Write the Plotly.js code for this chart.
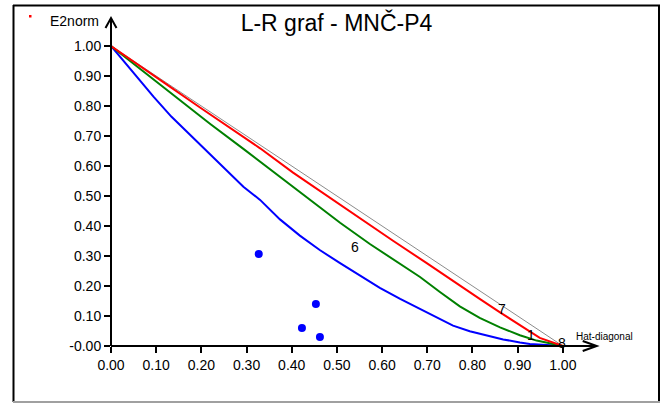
<!DOCTYPE html>
<html><head><meta charset="utf-8">
<script src="https://cdn.plot.ly/plotly-3.0.1.min.js"></script>
<style>html,body{margin:0;padding:0;background:#fff}#chart{width:664px;height:403px}</style>
</head><body><div id="chart"></div>
<script>
// ---- data ----
const tickVals = [0,0.1,0.2,0.3,0.4,0.5,0.6,0.7,0.8,0.9,1.0];
const xTickText = ["0.00","0.10","0.20","0.30","0.40","0.50","0.60","0.70","0.80","0.90","1.00"];
const yTickText = ["-0.00","0.10","0.20","0.30","0.40","0.50","0.60","0.70","0.80","0.90","1.00"];

const diagHat = [0, 1];
const diagE2  = [1, 0];

const redHat = [0,0.049,0.123,0.197,0.271,0.330,0.403,0.477,0.551,0.625,0.698,0.772,0.816,0.861,0.905,0.949,1.0];
const redE2  = [1,0.948,0.872,0.795,0.718,0.659,0.578,0.501,0.424,0.350,0.277,0.200,0.157,0.112,0.068,0.027,0];

const greenHat = [0,0.049,0.094,0.160,0.219,0.293,0.330,0.374,0.440,0.507,0.573,0.639,0.684,0.728,0.772,0.816,0.861,0.905,0.942,0.979,1.0];
const greenE2  = [1,0.942,0.886,0.810,0.741,0.657,0.614,0.564,0.487,0.411,0.340,0.275,0.230,0.180,0.132,0.094,0.062,0.036,0.018,0.007,0];

const blueHat = [0,0.057,0.094,0.134,0.175,0.219,0.256,0.293,0.330,0.374,0.418,0.462,0.507,0.558,0.595,0.640,0.684,0.721,0.757,0.794,0.831,0.868,0.905,0.927,0.964,1.0];
const blueE2  = [1,0.898,0.831,0.764,0.704,0.638,0.585,0.531,0.487,0.422,0.368,0.320,0.276,0.228,0.194,0.157,0.123,0.094,0.068,0.049,0.035,0.022,0.012,0.007,0.003,0];

const ptHat = [0.327,0.4226,0.4535,0.4624];
const ptE2  = [0.307,0.060,0.140,0.030];

const lblText = ["6","7","1","8"];
const lblHat  = [0.541,0.865,0.930,0.999];
const lblE2   = [0.331,0.123,0.037,0.010];

// ---- geometry helpers ----
const W = 664, H = 403, ML = 111, MR = 56, MT = 10, MB = 57;
const PW = W - ML - MR, PH = H - MT - MB;
const XR = [0, 1.1], YR = [0, 1.12];
const pX = px => (px - ML) / PW;
const pY = py => (H - MB - py) / PH;
const dX = x => (x - XR[0]) / (XR[1] - XR[0]);
const dY = y => (y - YR[0]) / (YR[1] - YR[0]);

const font = 'Liberation Sans, Arial, sans-serif';

const traces = [
  {x: diagHat, y: diagE2, mode: 'lines', line: {color: '#8c8c8c', width: 1}, cliponaxis: false, hoverinfo: 'skip'},
  {x: blueHat, y: blueE2, mode: 'lines', line: {color: '#0000ff', width: 2}, cliponaxis: false},
  {x: greenHat, y: greenE2, mode: 'lines', line: {color: '#008000', width: 2}, cliponaxis: false},
  {x: redHat, y: redE2, mode: 'lines', line: {color: '#ff0000', width: 2}, cliponaxis: false},
  {x: ptHat, y: ptE2, mode: 'markers', marker: {color: '#0000ff', size: 8}, cliponaxis: false}
];

const xTip = 1.075, yTip = 1.093;
const cdx = 14 / PW, cdy = 5 / PH;   // x chevron
const vdx = 5.5 / PW, vdy = 10 / PH; // y chevron
const shapes = [
  // frame
  {type: 'line', xref: 'paper', yref: 'paper', x0: pX(13), x1: pX(660), y0: pY(5.5), y1: pY(5.5), line: {color: '#000', width: 2}},
  {type: 'line', xref: 'paper', yref: 'paper', x0: pX(13.5), x1: pX(13.5), y0: pY(5), y1: pY(402), line: {color: '#000', width: 2}},
  {type: 'line', xref: 'paper', yref: 'paper', x0: pX(659), x1: pX(659), y0: pY(5), y1: pY(402), line: {color: '#000', width: 2}},
  {type: 'line', xref: 'paper', yref: 'paper', x0: pX(13), x1: pX(660), y0: pY(402), y1: pY(402), line: {color: '#a0a0a0', width: 2}},
  // axes
  {type: 'line', xref: 'paper', yref: 'paper', x0: dX(0), x1: dX(xTip), y0: dY(0), y1: dY(0), line: {color: '#000', width: 2}},
  {type: 'line', xref: 'paper', yref: 'paper', x0: dX(0), x1: dX(0), y0: dY(0), y1: dY(yTip), line: {color: '#000', width: 2}},
  {type: 'path', xref: 'paper', yref: 'paper',
   path: `M ${dX(xTip)-cdx},${dY(0)+cdy} L ${dX(xTip)},${dY(0)} L ${dX(xTip)-cdx},${dY(0)-cdy}`, line: {color: '#000', width: 2}},
  {type: 'path', xref: 'paper', yref: 'paper',
   path: `M ${dX(0)-vdx},${dY(yTip)-vdy} L ${dX(0)},${dY(yTip)} L ${dX(0)+vdx},${dY(yTip)-vdy}`, line: {color: '#000', width: 2}},
  // small red legend dot
  {type: 'rect', xref: 'paper', yref: 'paper', x0: pX(29), x1: pX(31.5), y0: pY(15), y1: pY(17.5), fillcolor: '#ff0000', line: {width: 0}}
];

const annotations = [
  {xref: 'paper', yref: 'paper', x: pX(74), y: pY(21), text: 'E2norm', showarrow: false, xanchor: 'center', yanchor: 'middle', font: {family: font, size: 14, color: '#000'}},
  {xref: 'paper', yref: 'paper', x: pX(604.5), y: pY(336.5), text: 'Hat-diagonal', showarrow: false, xanchor: 'center', yanchor: 'middle', font: {family: font, size: 10, color: '#000'}}
];
lblText.forEach((t, i) => annotations.push({
  x: lblHat[i], y: lblE2[i], xref: 'x', yref: 'y', text: t, showarrow: false,
  xanchor: 'center', yanchor: 'middle', font: {family: font, size: 14, color: '#000'}
}));

const axisCommon = {
  tickvals: tickVals, ticks: 'outside', ticklen: 6, tickwidth: 2, tickcolor: '#000',
  showline: false, showgrid: false, zeroline: false, fixedrange: true,
  tickfont: {family: font, size: 14, color: '#000'}
};

const layout = {
  width: W, height: H,
  margin: {l: ML, r: MR, t: MT, b: MB, pad: 0},
  paper_bgcolor: '#fff', plot_bgcolor: '#fff',
  showlegend: false,
  title: {text: 'L-R graf - MNČ-P4', font: {family: font, size: 23, color: '#000'},
          x: 336.5 / W, xanchor: 'center', y: 1 - 22.5 / H, yanchor: 'middle'},
  xaxis: Object.assign({}, axisCommon, {range: XR, ticktext: xTickText}),
  yaxis: Object.assign({}, axisCommon, {range: YR, ticktext: yTickText}),
  shapes: shapes,
  annotations: annotations
};

Plotly.newPlot('chart', traces, layout, {displayModeBar: false, staticPlot: true});
</script>
</body></html>
